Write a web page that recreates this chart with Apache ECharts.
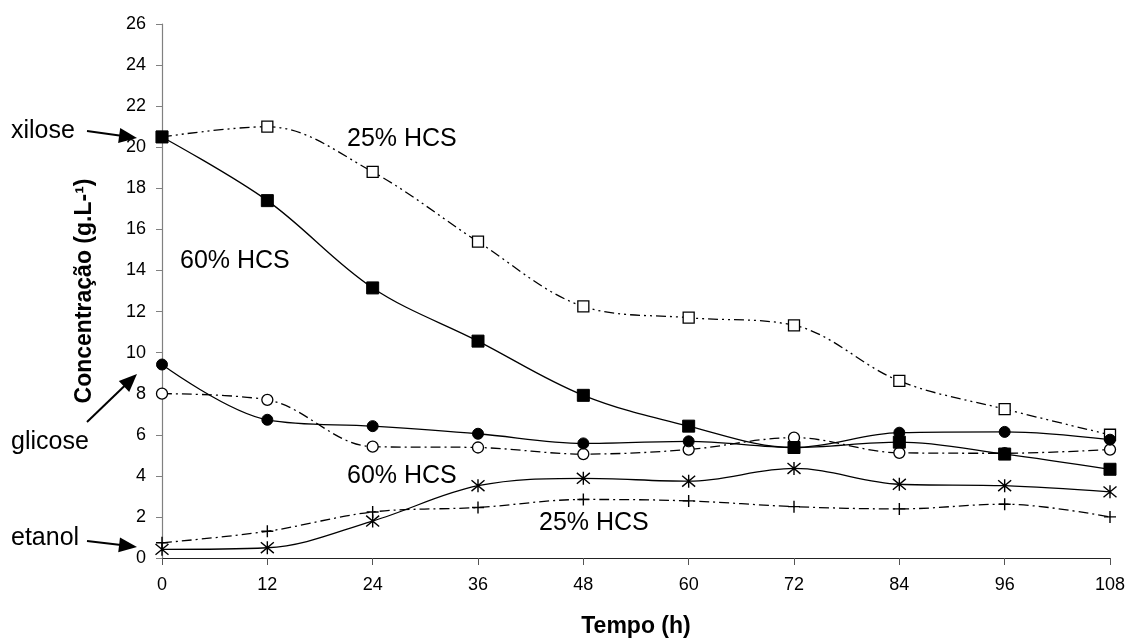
<!DOCTYPE html>
<html>
<head>
<meta charset="utf-8">
<script src="https://cdn.jsdelivr.net/npm/echarts@6/dist/echarts.min.js"></script>
<style>html,body{margin:0;padding:0;background:#fff}#c{width:1130px;height:639px}</style>
</head>
<body>
<div id="c"></div>
<script>
const times = [0, 12, 24, 36, 48, 60, 72, 84, 96, 108];
const xilose25 = [20.5, 21.0, 18.8, 15.4, 12.25, 11.7, 11.33, 8.62, 7.25, 6.0];
const xilose60 = [20.5, 17.4, 13.15, 10.56, 7.92, 6.42, 5.38, 5.64, 5.06, 4.32];
const glicose60 = [9.42, 6.73, 6.42, 6.05, 5.58, 5.68, 5.38, 6.1, 6.14, 5.76];
const glicose25 = [8.0, 7.7, 5.42, 5.38, 5.06, 5.28, 5.86, 5.12, 5.1, 5.28];
const etanol60 = [0.42, 0.5, 1.8, 3.52, 3.88, 3.74, 4.36, 3.59, 3.52, 3.22];
const etanol25 = [0.74, 1.3, 2.24, 2.46, 2.85, 2.78, 2.5, 2.39, 2.62, 2.0];
const yTicks = [0, 2, 4, 6, 8, 10, 12, 14, 16, 18, 20, 22, 24, 26];

const FONT = 'Liberation Sans, Arial, sans-serif';
const pair = arr => times.map((t, i) => [t, arr[i]]);
const ASTER = 'path://M0,0L10,10M10,0L0,10M5,-1L5,11';
const PLUS = 'path://M5,0L5,10M0,5L10,5';

function ser(name, data, opts) {
  return Object.assign({
    name, type: 'line', data: pair(data), smooth: 0.35,
    lineStyle: { color: '#000', width: 1.3, type: 'solid' },
    itemStyle: { color: '#000', borderColor: '#000', borderWidth: 1 },
    symbolSize: 10, z: 3
  }, opts);
}

const series = [
  ser('xilose 25% HCS', xilose25, {
    symbol: 'rect', symbolSize: 11,
    lineStyle: { color: '#000', width: 1.3, type: [10, 4, 2, 4, 2, 4] },
    itemStyle: { color: '#fff', borderColor: '#000', borderWidth: 1.3 }
  }),
  ser('glicose 25% HCS', glicose25, {
    symbol: 'circle', symbolSize: 11,
    lineStyle: { color: '#000', width: 1.3, type: [10, 4, 2, 4] },
    itemStyle: { color: '#fff', borderColor: '#000', borderWidth: 1.3 }
  }),
  ser('etanol 25% HCS', etanol25, {
    symbol: PLUS, symbolSize: 12,
    lineStyle: { color: '#000', width: 1.3, type: [10, 4, 2, 4] },
    itemStyle: { color: 'none', borderColor: '#000', borderWidth: 1.4 }
  }),
  ser('xilose 60% HCS', xilose60, { symbol: 'rect', symbolSize: 12, z: 4 }),
  ser('glicose 60% HCS', glicose60, { symbol: 'circle', symbolSize: 11, z: 4 }),
  ser('etanol 60% HCS', etanol60, {
    symbol: ASTER, symbolSize: 13, z: 4,
    itemStyle: { color: 'none', borderColor: '#000', borderWidth: 1.4 }
  })
];

function arrow(x1, y1, x2, y2) {
  const ang = Math.atan2(y2 - y1, x2 - x1);
  const L = 18, W = 7.5;
  const bx = x2 - L * Math.cos(ang), by = y2 - L * Math.sin(ang);
  const px = -Math.sin(ang) * W, py = Math.cos(ang) * W;
  return [
    { type: 'line', shape: { x1, y1, x2: bx + 2 * Math.cos(ang), y2: by + 2 * Math.sin(ang) }, style: { stroke: '#000', lineWidth: 2 } },
    { type: 'polygon', shape: { points: [[x2, y2], [bx + px, by + py], [bx - px, by - py]] }, style: { fill: '#000' } }
  ];
}
function label(text, x, y) {
  return { type: 'text', x, y, style: { text, font: '25px ' + FONT, fill: '#000', textAlign: 'left', textVerticalAlign: 'middle' } };
}

const chart = echarts.init(document.getElementById('c'), null, { renderer: 'canvas' });
chart.setOption({
  backgroundColor: '#fff',
  animation: false,
  grid: { left: 162, right: 20, top: 24, bottom: 81, containLabel: false, outerBoundsMode: 'none' },
  xAxis: {
    type: 'value', min: 0, max: 108, interval: 12,
    name: 'Tempo (h)', nameLocation: 'middle', nameGap: 57,
    nameTextStyle: { fontFamily: FONT, fontWeight: 'bold', fontSize: 23, color: '#000' },
    axisLine: { lineStyle: { color: '#222', width: 1.2 } },
    axisTick: { length: 7, lineStyle: { color: '#555' } },
    axisLabel: { fontFamily: FONT, fontSize: 18, color: '#000', margin: 18 },
    splitLine: { show: false }
  },
  yAxis: {
    type: 'value', min: 0, max: 26, interval: 2,
    name: 'Concentração (g.L-¹)', nameLocation: 'middle', nameGap: 66, nameRotate: 90,
    nameTextStyle: { fontFamily: FONT, fontWeight: 'bold', fontSize: 23, color: '#000' },
    axisLine: { show: true, lineStyle: { color: '#808080', width: 1.2 } },
    axisTick: { show: true, length: 6, lineStyle: { color: '#808080' } },
    axisLabel: { fontFamily: FONT, fontSize: 18, color: '#000', margin: 16,
      formatter: v => yTicks.includes(v) ? String(v) : '' },
    splitLine: { show: false }
  },
  series,
  graphic: [
    label('xilose', 11, 131),
    ...arrow(87, 131, 137, 138),
    label('25% HCS', 347, 139),
    label('60% HCS', 180, 261),
    label('glicose', 11, 442),
    ...arrow(87, 422, 137, 374),
    label('60% HCS', 347, 476),
    label('25% HCS', 539, 523),
    label('etanol', 11, 538),
    ...arrow(87, 541, 137, 547)
  ]
});
</script>
</body>
</html>
